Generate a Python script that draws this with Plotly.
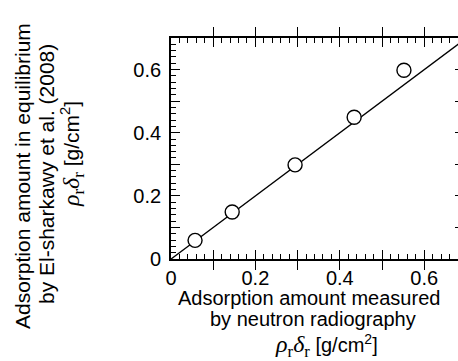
import plotly.graph_objects as go

# Data
measured_x = [0.057, 0.145, 0.294, 0.434, 0.552]
equilibrium_y = [0.059, 0.149, 0.298, 0.449, 0.598]
fit_x = [0.0, 0.7]
fit_y = [0.0, 0.7]

hidden_labels = {"0.1": " ", "0.3": " ", "0.5": " ", "0.7": " "}

W, H = 458, 361
L, R, T, B = 171, 0, 38, 102
pw = W - L - R
ph = H - T - B

def px(xp):
    return (xp - L) / pw

def py(yp):
    return (H - B - yp) / ph

FONT = "Liberation Sans, Arial, sans-serif"
rho = ("<span style='font-family:Liberation Serif;font-size:24px'><i>ρ</i>"
       "<sub>r</sub><i>δ</i><sub>r</sub></span> [g/cm<sup>2</sup>]")

x_max = 0.7 * pw / 295.4
y_max = 0.7

fig = go.Figure()
fig.add_trace(go.Scatter(x=fit_x, y=fit_y, mode="lines",
                         line=dict(color="black", width=1.4),
                         showlegend=False, hoverinfo="skip"))
fig.add_trace(go.Scatter(x=measured_x, y=equilibrium_y, mode="markers",
                         marker=dict(size=14, color="white",
                                     line=dict(color="black", width=1.4)),
                         showlegend=False, cliponaxis=False))
# carriers for the helper axes (minor ticks and right-edge stubs)
fig.add_trace(go.Scatter(x=[None], y=[None], xaxis="x2", yaxis="y3",
                         showlegend=False))
fig.add_trace(go.Scatter(x=[None], y=[None], xaxis="x", yaxis="y2",
                         showlegend=False))

axis_common = dict(
    showgrid=False, zeroline=False, showline=True, linecolor="black",
    linewidth=1.8, ticks="inside", ticklen=9, tickwidth=1.2,
    tickcolor="black", tickmode="linear", tick0=0, dtick=0.1,
    labelalias=hidden_labels,
    tickfont=dict(family=FONT, size=20, color="black"),
)
minor_common = dict(
    showgrid=False, zeroline=False, showline=False, ticks="inside",
    ticklen=5, tickwidth=1, tickcolor="black", tickmode="linear", tick0=0,
    dtick=0.02, showticklabels=False,
)

fig.update_layout(
    xaxis=dict(range=[0, x_max], mirror="allticks", **axis_common),
    yaxis=dict(range=[0, y_max], mirror=False, ticklabelstandoff=4,
               **axis_common),
    xaxis2=dict(overlaying="x", anchor="y", side="bottom",
                range=[0, x_max], mirror="allticks", **minor_common),
    yaxis3=dict(overlaying="y", anchor="x", side="left",
                range=[0, y_max], mirror=False, **minor_common),
    yaxis2=dict(overlaying="y", anchor="x", side="right", range=[0, y_max],
                showgrid=False, zeroline=False, showline=False,
                ticks="inside", ticklen=3, tickwidth=1.2, tickcolor="black",
                tickmode="linear", tick0=0, dtick=0.1,
                showticklabels=False),
)

ann = []
ytitle = [("Adsorption amount in equilibrium", 22, 176),
          ("by El-sharkawy et al. (2008)", 46, 174),
          (rho, 72, 154)]
for txt, xp, yp in ytitle:
    ann.append(dict(text=txt, x=px(xp), y=py(yp), xref="paper", yref="paper",
                    xanchor="center", yanchor="middle", textangle=-90,
                    showarrow=False,
                    font=dict(family=FONT, size=21, color="black")))
xtitle = [("Adsorption amount measured", 309, 298),
          ("by neutron radiography", 313, 319),
          (rho, 326, 346)]
for txt, xp, yp in xtitle:
    ann.append(dict(text=txt, x=px(xp), y=py(yp), xref="paper", yref="paper",
                    xanchor="center", yanchor="middle", showarrow=False,
                    font=dict(family=FONT, size=20, color="black")))

fig.update_layout(
    width=W, height=H,
    margin=dict(l=L, r=R, t=T, b=B, pad=0),
    paper_bgcolor="white", plot_bgcolor="white",
    annotations=ann,
    font=dict(family=FONT, color="black"),
)

fig.write_html("out.html")
